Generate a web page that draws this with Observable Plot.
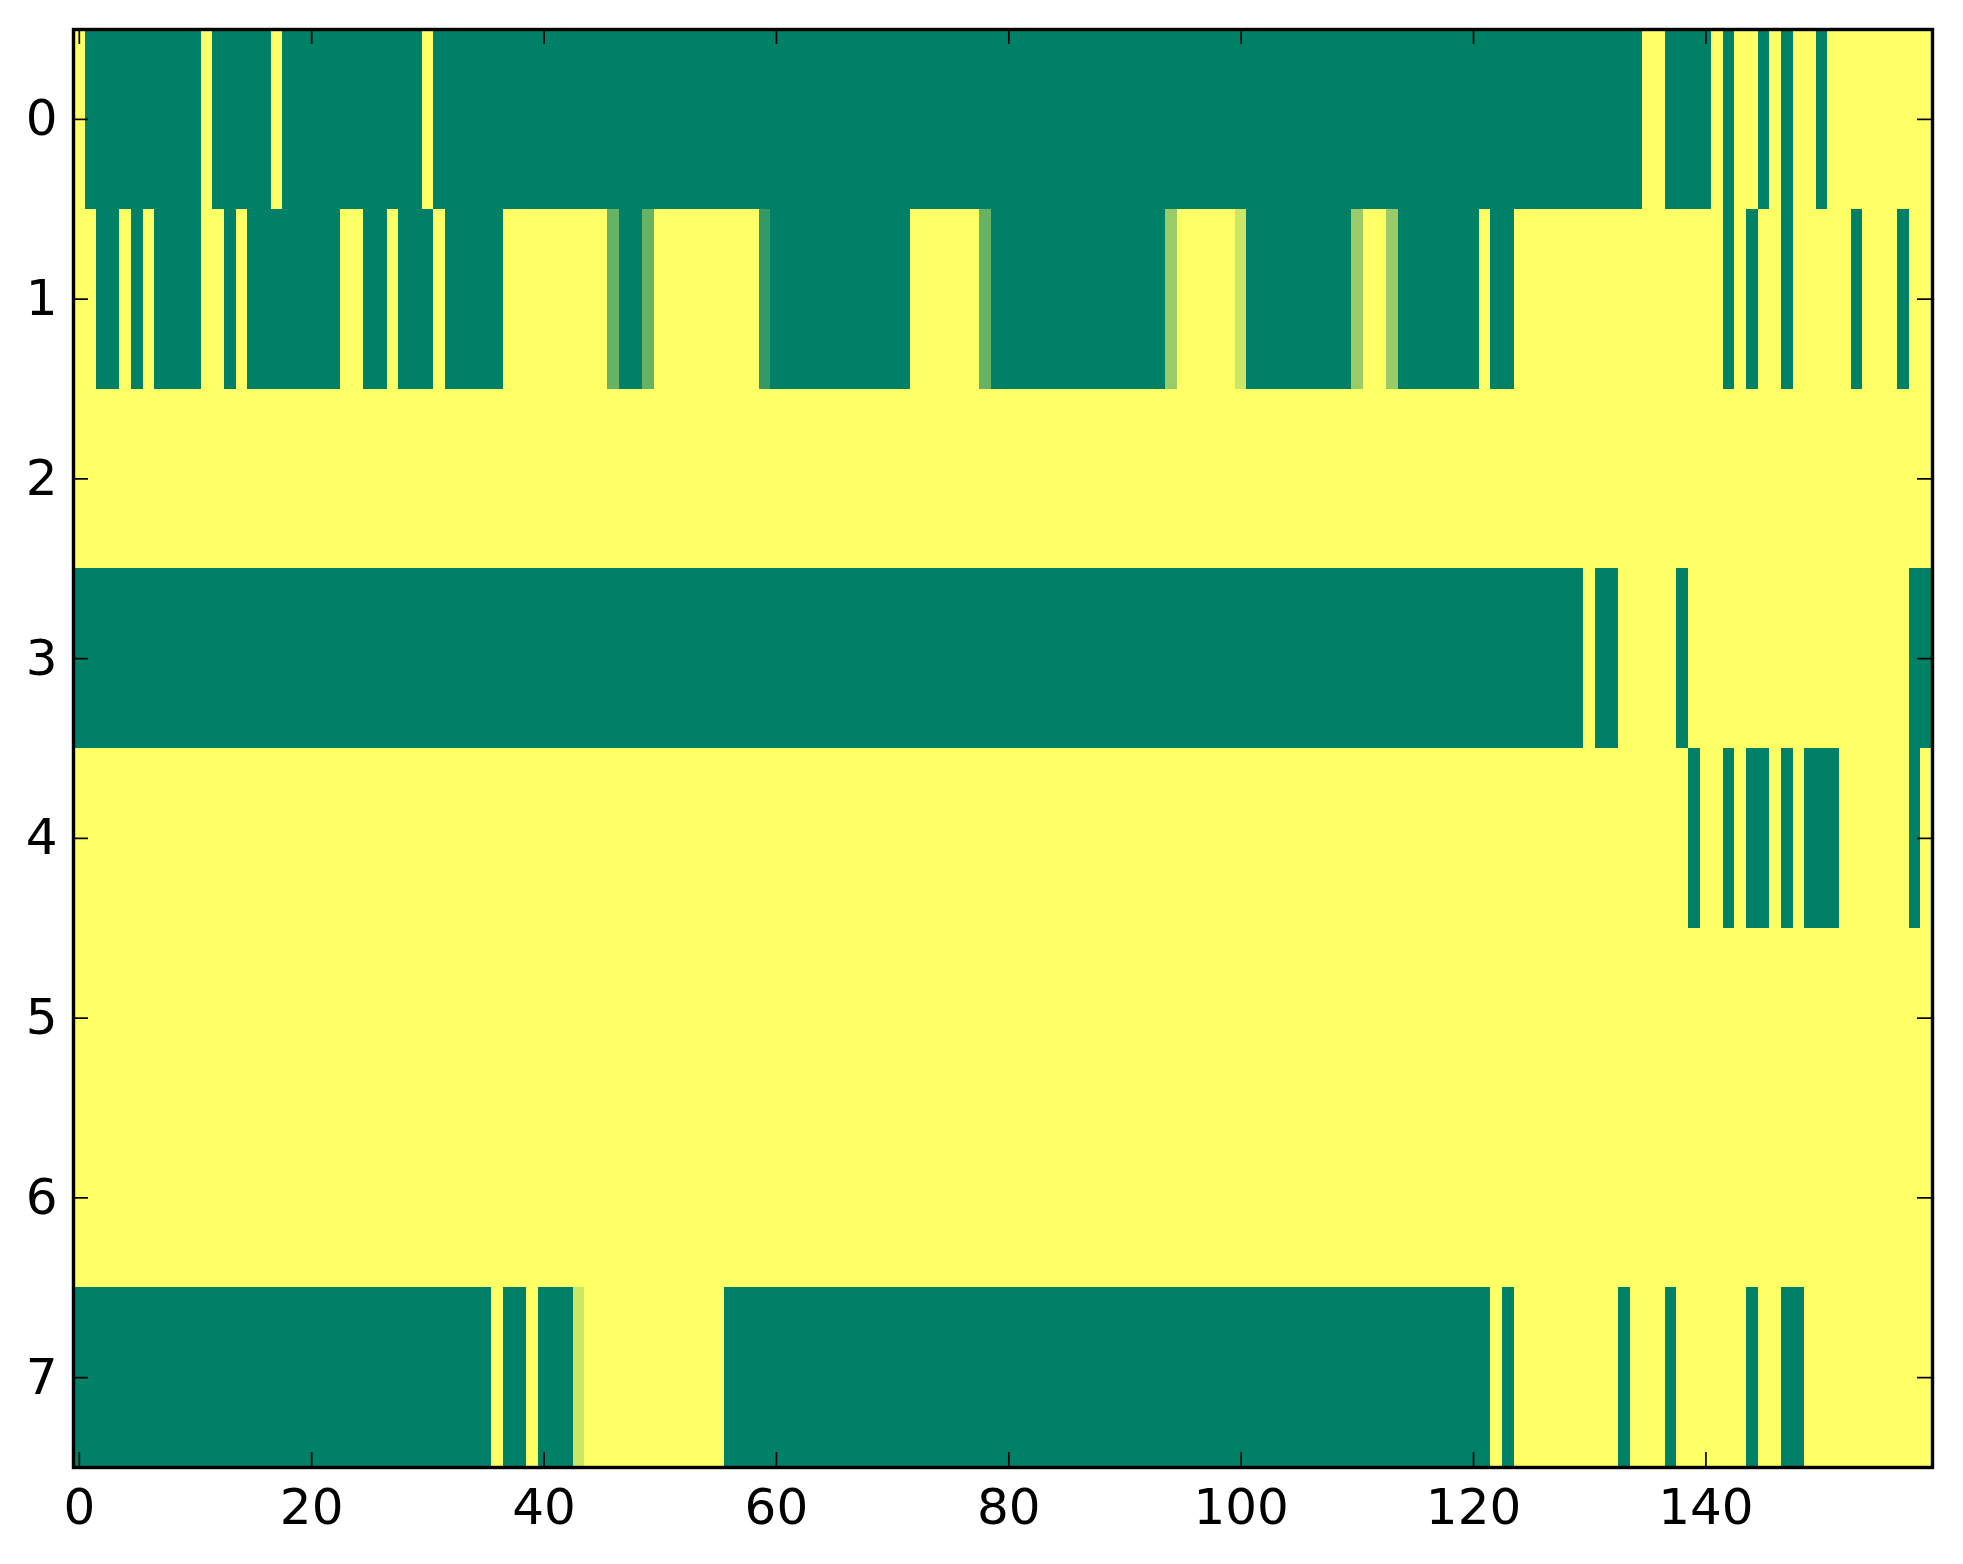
<!DOCTYPE html>
<html>
<head>
<meta charset="utf-8">
<script src="https://cdn.jsdelivr.net/npm/d3@7"></script>
<script src="https://cdn.jsdelivr.net/npm/@observablehq/plot@0.6"></script>
<style>
  html, body { margin: 0; padding: 0; background: #fff; overflow: hidden; }
</style>
</head>
<body>
<div id="chart"></div>
<script>
// each row is a list of [value, count] runs, left to right, 160 columns
var row0 = [[1,1],[0,10],[1,1],[0,5],[1,1],[0,12],[1,1],[0,104],[1,2],[0,4],[1,1],[0,1],[1,2],[0,1],[1,1],[0,1],[1,2],[0,1],[1,9]];
var row1 = [[1,2],[0,2],[1,1],[0,1],[1,1],[0,4],[1,2],[0,1],[1,1],[0,8],[1,2],[0,2],[1,1],[0,3],[1,1],[0,5],
            [1,9],[0.4,1],[0,2],[0.4,1],[1,9],[0.2,1],[0,12],[1,6],[0.4,1],[0,15],[0.6,1],[1,5],[0.8,1],[0,9],
            [0.6,1],[1,2],[0.6,1],[0,7],[1,1],[0,2],[1,18],[0,1],[1,1],[0,1],[1,2],[0,1],[1,5],[0,1],[1,3],[0,1],[1,2]];
var row2 = [[1,160]];
var row3 = [[0,130],[1,1],[0,2],[1,5],[0,1],[1,19],[0,2]];
var row4 = [[1,139],[0,1],[1,2],[0,1],[1,1],[0,2],[1,1],[0,1],[1,1],[0,3],[1,6],[0,1],[1,1]];
var row5 = [[1,160]];
var row6 = [[1,160]];
var row7 = [[0,36],[1,1],[0,2],[1,1],[0,3],[0.8,1],[1,12],[0,66],[1,1],[0,1],[1,9],[0,1],[1,3],[0,1],[1,6],[0,1],[1,2],[0,2],[1,11]];

var rows = [row0, row1, row2, row3, row4, row5, row6, row7];
var xTicks = [0, 20, 40, 60, 80, 100, 120, 140];
var yTicks = [0, 1, 2, 3, 4, 5, 6, 7];

// unroll the runs into one cell per column
var cells = [];
rows.forEach(function (runs, r) {
  var c = 0;
  runs.forEach(function (run) {
    for (var k = 0; k < run[1]; k++) {
      cells.push({ row: r, col: c, v: run[0] });
      c++;
    }
  });
});

// matplotlib "summer" colormap
function summer(t) {
  return "rgb(" + (255 * t) + "," + (127.5 + 127.5 * t) + ",102)";
}

var W = 1963, H = 1564;
var mL = 73, mR = 31, mT = 29, mB = 97;
var fw = W - mL - mR, fh = H - mT - mB;
var tick = 15;

var options = {
  width: W,
  height: H,
  marginLeft: mL,
  marginRight: mR,
  marginTop: mT,
  marginBottom: mB,
  style: { background: "white", fontFamily: "DejaVu Sans", fontSize: "50px", color: "black" },
  x: { domain: [-0.5, 159.5] },
  y: { domain: [-0.5, 7.5], reverse: true },
  color: { type: "linear", domain: [0, 1], interpolate: summer },
  marks: [
    Plot.rect(cells, {
      x1: d => d.col - 0.5,
      x2: d => d.col + 0.5,
      y1: d => d.row - 0.5,
      y2: d => d.row + 0.5,
      fill: "v",
      shapeRendering: "crispEdges"
    }),
    // inward ticks on all four sides
    Plot.tickX(xTicks, { x: d => d, insetTop: fh - tick, stroke: "black", strokeWidth: 1.7 }),
    Plot.tickX(xTicks, { x: d => d, insetBottom: fh - tick, stroke: "black", strokeWidth: 1.7 }),
    Plot.tickY(yTicks, { y: d => d, insetRight: fw - tick, stroke: "black", strokeWidth: 1.7 }),
    Plot.tickY(yTicks, { y: d => d, insetLeft: fw - tick, stroke: "black", strokeWidth: 1.7 }),
    Plot.axisX({ ticks: xTicks, anchor: "bottom", tickSize: 0, tickPadding: 21, fontSize: 50, label: null }),
    Plot.axisY({ ticks: yTicks, anchor: "left", tickSize: 0, tickPadding: 16, fontSize: 50, label: null }),
    Plot.frame({ stroke: "black", strokeWidth: 3.4 })
  ]
};

document.getElementById("chart").append(Plot.plot(options));
</script>
</body>
</html>
